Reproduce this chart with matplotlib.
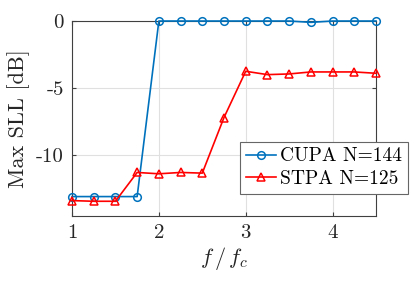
import matplotlib
matplotlib.use("Agg")
import matplotlib.pyplot as plt

# frequency ratio f/fc
freq = [1.0, 1.25, 1.5, 1.75, 2.0, 2.25, 2.5, 2.75, 3.0, 3.25, 3.5, 3.75, 4.0, 4.25, 4.5]

# max side lobe level in dB
cupa_sll = [-13.1, -13.1, -13.1, -13.1, 0.0, 0.0, 0.0, 0.0, 0.0, 0.0, 0.0, -0.1, 0.0, 0.0, 0.0]
stpa_sll = [-13.4, -13.45, -13.45, -11.3, -11.4, -11.3, -11.35, -7.2, -3.75, -4.0, -3.95, -3.8, -3.8, -3.8, -3.9]

xticks = [1, 2, 3, 4]
yticks = [-10, -5, 0]

plt.rcParams['font.family'] = 'serif'
plt.rcParams['font.serif'] = ['cmr10']
plt.rcParams['mathtext.fontset'] = 'cm'
plt.rcParams['axes.formatter.use_mathtext'] = False
plt.rcParams['axes.unicode_minus'] = False

fig = plt.figure(figsize=(4.15, 2.84), dpi=100)
ax = fig.add_axes([0.1735, 0.2394, 0.7325, 0.6866])

blue = (0.0, 0.447, 0.741)
ax.plot(freq, cupa_sll, color=blue, lw=1.2, marker='o', ms=5.5, mfc='none',
        mew=1.1, label='CUPA N=144', clip_on=False, zorder=3)
ax.plot(freq, stpa_sll, color='red', lw=1.2, marker='^', ms=6, mfc='none',
        mew=1.1, label='STPA N=125', clip_on=False, zorder=3)

ax.set_xlim(1, 4.5)
ax.set_ylim(-14.55, 0)
ax.set_xticks(xticks)
ax.set_yticks(yticks)
ax.set_xticklabels([str(t) for t in xticks])
ax.set_yticklabels([str(t) for t in yticks])
ax.tick_params(direction='in', top=True, right=True, labelsize=15, length=3,
               color='0.25', labelcolor='0.15', pad=6)
ax.grid(True, color='0.88', lw=0.8)
ax.set_axisbelow(True)
for s in ax.spines.values():
    s.set_color('0.25')
    s.set_linewidth(0.8)

ax.set_xlabel(r'$f\,/\,f_c$', fontsize=16, color='0.15', labelpad=2)
ax.set_ylabel('Max SLL [dB]', fontsize=16, color='0.15', labelpad=4)

leg = ax.legend(loc='lower left', bbox_to_anchor=(0.578, 0.317),
                bbox_transform=fig.transFigure, fontsize=14, handlelength=1.55,
                handletextpad=0.2, borderpad=0.3, labelspacing=0.25,
                borderaxespad=0, fancybox=False, framealpha=1,
                edgecolor='0.4')
leg.get_frame().set_linewidth(0.8)
leg.set_zorder(5)

fig.savefig('out.png', dpi=100)
